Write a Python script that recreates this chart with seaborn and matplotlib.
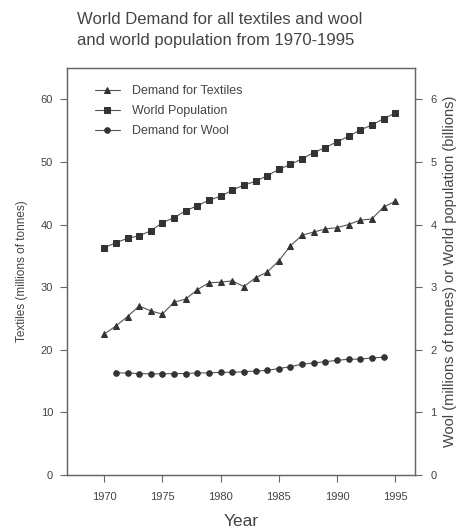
import matplotlib
matplotlib.use("Agg")
import matplotlib.pyplot as plt
import seaborn as sns
import pandas as pd

years_textiles = list(range(1970, 1996))
textiles = [22.5, 23.8, 25.3, 27.0, 26.2, 25.7, 27.6, 28.1, 29.6, 30.7,
            30.8, 31.0, 30.1, 31.5, 32.4, 34.2, 36.6, 38.3, 38.8, 39.3,
            39.5, 40.0, 40.7, 40.9, 42.8, 43.7]

years_population = list(range(1970, 1996))
population = [3.63, 3.71, 3.78, 3.82, 3.90, 4.03, 4.11, 4.22, 4.30, 4.39,
              4.45, 4.55, 4.63, 4.69, 4.78, 4.88, 4.96, 5.05, 5.15, 5.23,
              5.32, 5.41, 5.51, 5.59, 5.69, 5.78]

years_wool = list(range(1971, 1995))
wool = [1.63, 1.63, 1.62, 1.615, 1.615, 1.62, 1.62, 1.63, 1.63, 1.64,
        1.64, 1.65, 1.66, 1.67, 1.70, 1.73, 1.77, 1.79, 1.81, 1.83,
        1.85, 1.85, 1.87, 1.88]

x_ticks = [1970, 1975, 1980, 1985, 1990, 1995]
left_ticks = [0, 10, 20, 30, 40, 50, 60]
right_ticks = [0, 1, 2, 3, 4, 5, 6]

title = "World Demand for all textiles and wool\nand world population from 1970-1995"

sns.set_style("ticks")
plt.rcParams['font.family'] = ['Liberation Sans', 'DejaVu Sans']

txt = "#444444"
line_c = "#555555"
mark_c = "#333333"

fig = plt.figure(figsize=(4.64, 5.30), dpi=100)
ax = fig.add_axes([67/464, 1 - 475/530, (415-67)/464, (475-68)/530])
ax2 = ax.twinx()

df_t = pd.DataFrame({"Year": years_textiles, "v": textiles})
df_p = pd.DataFrame({"Year": years_population, "v": population})
df_w = pd.DataFrame({"Year": years_wool, "v": wool})

sns.lineplot(data=df_t, x="Year", y="v", ax=ax, color=line_c, lw=0.8,
             marker="^", markersize=4.5, markerfacecolor=mark_c,
             markeredgecolor=mark_c, label="Demand for Textiles", legend=False)
sns.lineplot(data=df_p, x="Year", y="v", ax=ax2, color=line_c, lw=0.8,
             marker="s", markersize=4, markerfacecolor=mark_c,
             markeredgecolor=mark_c, label="World Population", legend=False)
sns.lineplot(data=df_w, x="Year", y="v", ax=ax2, color=line_c, lw=0.8,
             marker="o", markersize=4, markerfacecolor=mark_c,
             markeredgecolor=mark_c, label="Demand for Wool", legend=False)

ax.set_xlim(1966.8, 1996.7)
ax.set_ylim(0, 65)
ax2.set_ylim(0, 6.5)
ax.set_xticks(x_ticks)
ax.set_yticks(left_ticks)
ax2.set_yticks(right_ticks)

for a in (ax, ax2):
    for s in a.spines.values():
        s.set_visible(True)
        s.set_color("#666666")
        s.set_linewidth(0.9)
    a.tick_params(colors="#666666", labelcolor=txt, labelsize=8,
                  length=5, width=0.8)
ax.tick_params(axis="x", pad=7)
ax.tick_params(axis="y", pad=5)
ax2.tick_params(axis="y", pad=6)

ax.set_xlabel("Year", fontsize=12.5, color=txt, labelpad=9)
ax.set_ylabel("Textiles (millions of tonnes)", fontsize=8.5, color=txt, labelpad=9)
ax2.set_ylabel("Wool (millions of tonnes) or World population (billions)",
               fontsize=10.5, color=txt, labelpad=5)

fig.text(77/464, 1 - 30/530, title, ha="left", va="center",
         fontsize=12, color=txt, linespacing=1.45)

h1, l1 = ax.get_legend_handles_labels()
h2, l2 = ax2.get_legend_handles_labels()
ax.legend(h1 + h2, l1 + l2, loc="upper left", frameon=False, fontsize=9,
          labelcolor=txt, handlelength=2.0, handletextpad=1.0,
          labelspacing=0.65, borderaxespad=0.3, bbox_to_anchor=(0.055, 0.98))

fig.savefig("out.png", dpi=100)
